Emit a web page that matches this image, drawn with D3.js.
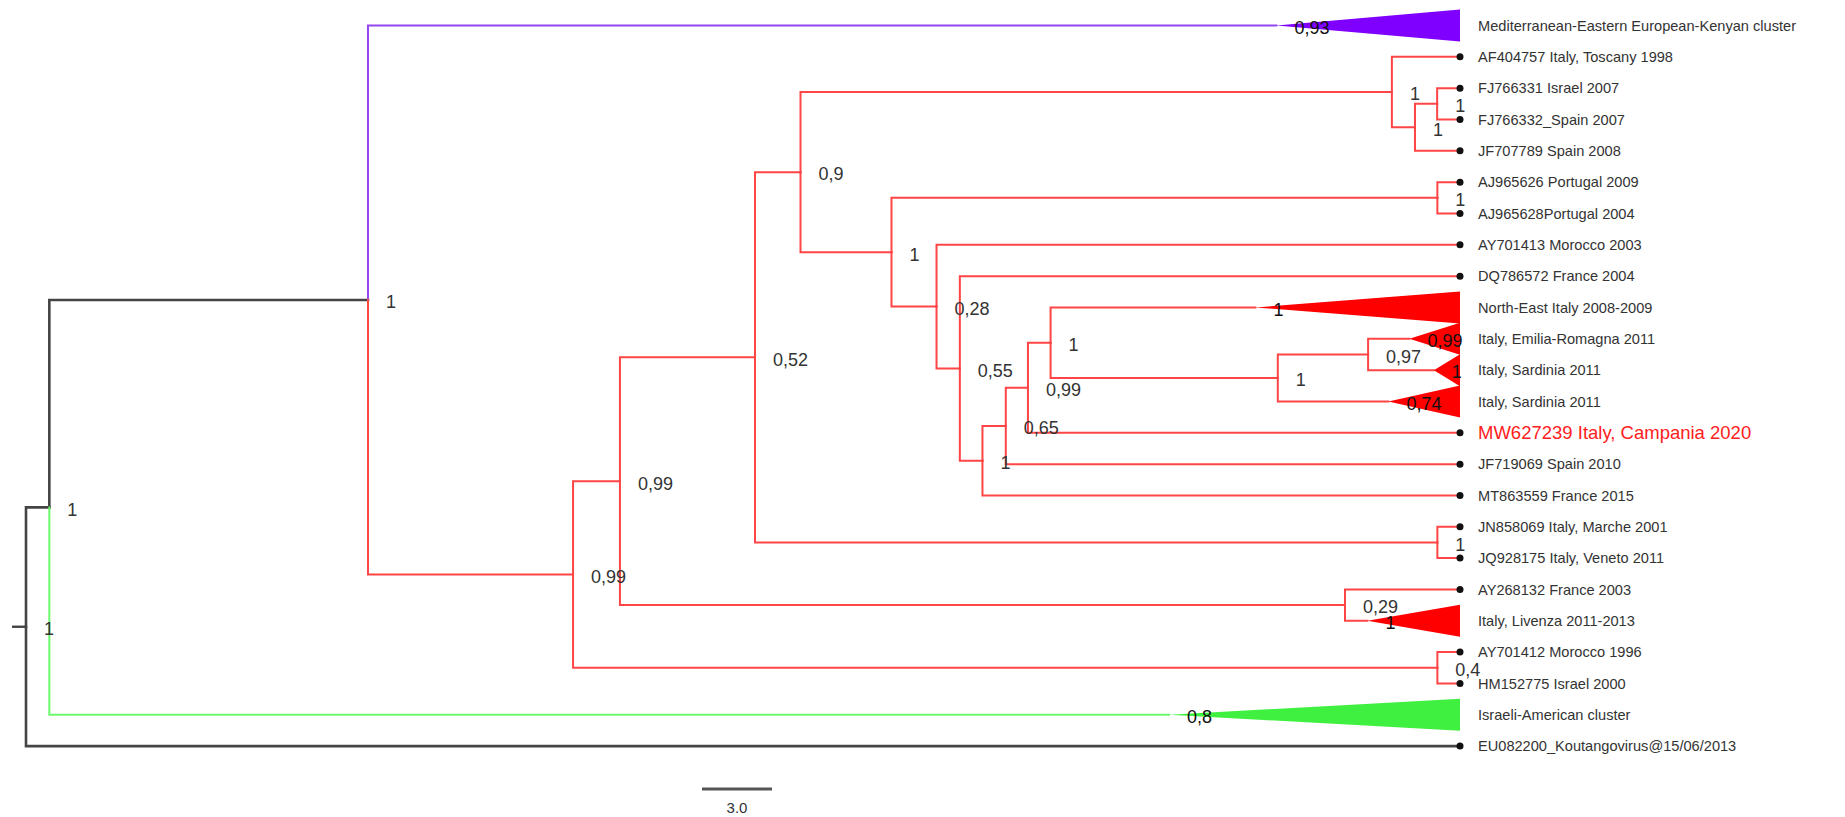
<!DOCTYPE html>
<html>
<head>
<meta charset="utf-8">
<script src="https://cdn.jsdelivr.net/npm/d3@7"></script>
<style>
  body { margin: 0; background: #fff; }
  text { font-family: "Liberation Sans", Arial, sans-serif; }
</style>
</head>
<body>
<div id="viz"></div>
<script>
const width = 1845;
const height = 817;

// internal nodes: id, parent, depth from root (scale-bar units), posterior, clade
const nodeIds     = ['R', 'A', 'B', 'C', 'D', 'E', 'F', 'G', 'I', 'FJ', 'H', 'AJ', 'J', 'K', 'L', 'M', 'N', 'O', 'P', 'Q', 'JNQ', 'LIV', 'AYH'];
const nodeParents = ['', 'R', 'A', 'B', 'C', 'D', 'E', 'F', 'G', 'I', 'F', 'H', 'H', 'J', 'K', 'L', 'M', 'N', 'O', 'P', 'E', 'D', 'C'];
const nodeDepths  = [0, 1.0, 14.66, 23.45, 25.46, 31.25, 33.2, 58.55, 59.54, 60.49, 37.1, 60.5, 39.03, 40.03, 41.0, 42.0, 42.95, 43.92, 53.66, 57.53, 60.5, 56.54, 60.5];
const nodeSupport = ['1', '1', '1', '0,99', '0,99', '0,52', '0,9', '1', '1', '1', '1', '1', '0,28', '0,55', '1', '0,65', '0,99', '1', '1', '0,97', '1', '0,29', '0,4'];
const nodeClades  = ['base', 'base', 'base', 'red', 'red', 'red', 'red', 'red', 'red', 'red', 'red', 'red', 'red', 'red', 'red', 'red', 'red', 'red', 'red', 'red', 'red', 'red', 'red'];

// tips, top to bottom; collapsed clades have an apex depth and a posterior
const tipLabels = [
  'Mediterranean-Eastern European-Kenyan cluster',
  'AF404757 Italy, Toscany 1998',
  'FJ766331 Israel 2007',
  'FJ766332_Spain 2007',
  'JF707789 Spain 2008',
  'AJ965626 Portugal 2009',
  'AJ965628Portugal 2004',
  'AY701413 Morocco 2003',
  'DQ786572 France 2004',
  'North-East Italy 2008-2009',
  'Italy, Emilia-Romagna 2011',
  'Italy, Sardinia 2011',
  'Italy, Sardinia 2011 ',
  'MW627239 Italy, Campania 2020',
  'JF719069 Spain 2010',
  'MT863559 France 2015',
  'JN858069 Italy, Marche 2001',
  'JQ928175 Italy, Veneto 2011',
  'AY268132 France 2003',
  'Italy, Livenza 2011-2013',
  'AY701412 Morocco 1996',
  'HM152775 Israel 2000',
  'Israeli-American cluster',
  'EU082200_Koutangovirus@15/06/2013'
];
const tipParents = ['B', 'G', 'FJ', 'FJ', 'I', 'AJ', 'AJ', 'J', 'K', 'O', 'Q', 'Q', 'P', 'N', 'M', 'L', 'JNQ', 'JNQ', 'LIV', 'LIV', 'AYH', 'AYH', 'A', 'R'];
const tipApex    = [53.6, null, null, null, null, null, null, null, null, 52.7, 59.3, 60.35, 58.4, null, null, null, null, null, null, 57.5, null, null, 49.0, null];
const tipSupport = ['0,93', '', '', '', '', '', '', '', '', '1', '0,99', '1', '0,74', '', '', '', '', '', '', '1', '', '', '0,8', ''];
const tipClades  = ['purple', 'red', 'red', 'red', 'red', 'red', 'red', 'red', 'red', 'red', 'red', 'red', 'red', 'red', 'red', 'red', 'red', 'red', 'red', 'red', 'red', 'red', 'green', 'base'];
const tipDepth = 61.47;
const highlightTip = 'MW627239 Italy, Campania 2020';
const scaleBarValue = 3.0;
const rootStub = 0.6;

const lineColor = { base: '#444', purple: '#9446f2', red: '#ff4545', green: '#6cfa6c' };
const fillColor = { purple: '#7f00ff', red: '#ff0000', green: '#40f040' };

const rows = [];
nodeIds.forEach((id, i) => rows.push({
  id, parentId: nodeParents[i] || null, depth: nodeDepths[i],
  support: nodeSupport[i], clade: nodeClades[i], tip: false
}));
tipLabels.forEach((label, i) => rows.push({
  id: label, parentId: tipParents[i], depth: tipDepth, apex: tipApex[i],
  support: tipSupport[i], clade: tipClades[i], tip: true, row: i
}));

const root = d3.stratify().id(d => d.id).parentId(d => d.parentId)(rows);
root.sort((a, b) => d3.min(a.leaves(), l => l.data.row) - d3.min(b.leaves(), l => l.data.row));

const x = d3.scaleLinear().domain([0, tipDepth]).range([26, 1460]);
const y = d3.scalePoint().domain(tipLabels).range([25.5, 746.1]);

root.eachAfter(d => {
  if (d.children) {
    d.py = (d.children[0].py + d.children[d.children.length - 1].py) / 2;
  } else {
    d.py = y(d.data.id);
  }
  // collapsed clades start at their apex
  d.px = x(d.data.apex != null ? d.data.apex : d.data.depth);
});

const container = d3.create('svg')
  .attr('width', width)
  .attr('height', height)
  .style('background', '#fff');

const chart = container.append('g').attr('id', 'tree');

// root stub
chart.append('line')
  .attr('x1', x(-rootStub))
  .attr('x2', x(0))
  .attr('y1', root.py)
  .attr('y2', root.py)
  .attr('stroke', lineColor.base)
  .attr('stroke-width', 2.4);

// branches (elbow)
chart.selectAll('.branch')
  .data(root.descendants().filter(d => d.parent))
  .enter()
  .append('path')
  .attr('class', 'branch')
  .attr('d', d => `M${d.parent.px},${d.parent.py}V${d.py}H${d.px}`)
  .attr('fill', 'none')
  .attr('stroke', d => lineColor[d.data.clade])
  .attr('stroke-width', d => d.data.clade === 'base' ? 2.6 : 2)
  .attr('stroke-linejoin', 'miter')
  .attr('stroke-linecap', 'square');

// collapsed clades
const collapsed = root.leaves().filter(d => d.data.apex != null);
chart.selectAll('.clade')
  .data(collapsed)
  .enter()
  .append('path')
  .attr('class', 'clade')
  .attr('d', d => `M${d.px},${d.py}L${x(tipDepth)},${d.py - 16}L${x(tipDepth)},${d.py + 16}Z`)
  .attr('fill', d => fillColor[d.data.clade]);

// tip dots
chart.selectAll('.tip')
  .data(root.leaves().filter(d => d.data.apex == null))
  .enter()
  .append('circle')
  .attr('class', 'tip')
  .attr('cx', x(tipDepth))
  .attr('cy', d => d.py)
  .attr('r', 3.5)
  .attr('fill', '#111');

// tip labels
chart.selectAll('.tip-label')
  .data(root.leaves())
  .enter()
  .append('text')
  .attr('class', 'tip-label')
  .attr('x', x(tipDepth) + 18)
  .attr('y', d => d.py)
  .attr('dy', '0.35em')
  .style('font-size', d => d.data.id === highlightTip ? '18.5px' : '14.6px')
  .attr('fill', d => d.data.id === highlightTip ? '#ff2020' : '#333')
  .text(d => d.data.id.trim());

// posterior labels
chart.selectAll('.support')
  .data(root.descendants().filter(d => d.data.support))
  .enter()
  .append('text')
  .attr('class', 'support')
  .attr('x', d => d.px + 18)
  .attr('y', d => d.py + 2)
  .attr('dy', '0.35em')
  .style('font-size', '18px')
  .attr('fill', d => d.data.apex != null ? '#111' : '#333')
  .text(d => d.data.support);

// scale bar
const barX = 702;
const barY = 789;
container.append('line')
  .attr('x1', barX)
  .attr('x2', barX + x(scaleBarValue) - x(0))
  .attr('y1', barY)
  .attr('y2', barY)
  .attr('stroke', '#555')
  .attr('stroke-width', 3);

container.append('text')
  .attr('x', barX + (x(scaleBarValue) - x(0)) / 2)
  .attr('y', barY + 19)
  .attr('dy', '0.35em')
  .style('text-anchor', 'middle')
  .style('font-size', '15px')
  .attr('fill', '#333')
  .text(scaleBarValue.toFixed(1));

d3.select('#viz').node().appendChild(container.node());
</script>
</body>
</html>
